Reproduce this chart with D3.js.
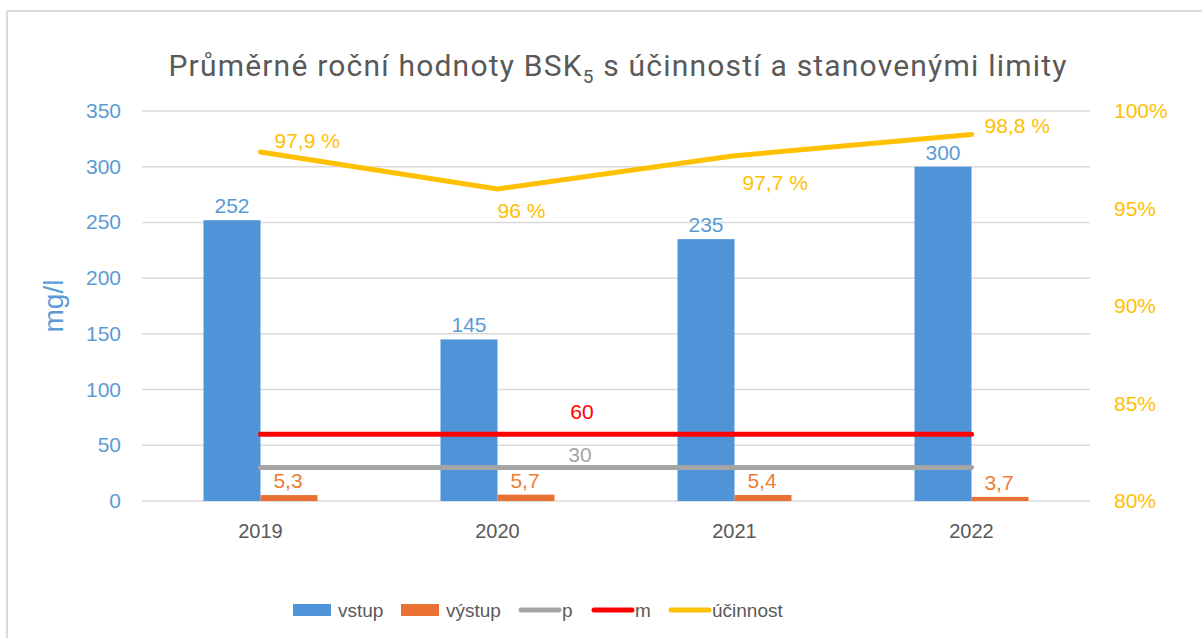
<!DOCTYPE html>
<html>
<head>
<meta charset="utf-8">
<script src="https://cdn.jsdelivr.net/npm/d3@7"></script>
<style>
  body { margin: 0; background: #fff; }
  text { font-family: "Liberation Sans", Arial, sans-serif; }
</style>
</head>
<body>
<div id="chart"></div>
<script>
const years = ["2019", "2020", "2021", "2022"];
const vstup = [252, 145, 235, 300];
const vystup = [5.3, 5.7, 5.4, 3.7];
const limitP = [30, 30, 30, 30];
const limitM = [60, 60, 60, 60];
const ucinnost = [97.9, 96, 97.7, 98.8];
const leftTicks = [0, 50, 100, 150, 200, 250, 300, 350];
const rightTicks = [80, 85, 90, 95, 100];

const W = 1202, H = 638;
const plot = { left: 142, right: 1090, top: 111, bottom: 501 };

const fmt = v => String(v).replace(".", ",");

const svg = d3.select("#chart").append("svg")
    .attr("width", W)
    .attr("height", H);

// chart frame (top + left edges visible in crop)
svg.append("line").attr("x1", 7).attr("x2", W).attr("y1", 11).attr("y2", 11)
    .attr("stroke", "#d9d9d9").attr("stroke-width", 2);
svg.append("line").attr("x1", 7).attr("x2", 7).attr("y1", 11).attr("y2", H)
    .attr("stroke", "#d9d9d9").attr("stroke-width", 2);

const x = d3.scaleBand()
    .domain(years)
    .range([plot.left, plot.right]);

const y = d3.scaleLinear()
    .domain([0, 350])
    .range([plot.bottom, plot.top]);

const y2 = d3.scaleLinear()
    .domain([80, 100])
    .range([plot.bottom, plot.top]);

const barW = 57;
const cx = d => x(d) + x.bandwidth() / 2;

// gridlines
svg.append("g")
    .selectAll("line").data(leftTicks).enter().append("line")
    .attr("x1", plot.left).attr("x2", plot.right)
    .attr("y1", d => y(d)).attr("y2", d => y(d))
    .attr("stroke", "#d9d9d9").attr("stroke-width", 1.5);

// left axis labels
svg.append("g")
    .selectAll("text").data(leftTicks).enter().append("text")
    .attr("x", 121).attr("y", d => y(d) + 7)
    .attr("text-anchor", "end")
    .attr("fill", "#5b9bd5")
    .style("font-size", "21px")
    .text(d => d);

// right axis labels
svg.append("g")
    .selectAll("text").data(rightTicks).enter().append("text")
    .attr("x", 1114).attr("y", d => y2(d) + 7)
    .attr("fill", "#ffc000")
    .style("font-size", "21px")
    .text(d => d + "%");

// category labels
svg.append("g")
    .selectAll("text").data(years).enter().append("text")
    .attr("x", d => cx(d)).attr("y", 538)
    .attr("text-anchor", "middle")
    .attr("fill", "#595959")
    .style("font-size", "20px")
    .text(d => d);

// axis title
svg.append("text")
    .attr("transform", "translate(63,306) rotate(-90)")
    .attr("text-anchor", "middle")
    .attr("fill", "#5b9bd5")
    .style("font-size", "28px")
    .text("mg/l");

// title
const title = svg.append("text")
    .attr("x", 618).attr("y", 76)
    .attr("text-anchor", "middle")
    .attr("fill", "#595959")
    .style("font-size", "30px")
    .style("letter-spacing", "1.2px")
    .style("font-family", "Roboto, sans-serif");
title.append("tspan").text("Průměrné roční hodnoty BSK");
title.append("tspan").attr("dy", 7).style("font-size", "19px").text("5");
title.append("tspan").attr("dy", -7).text(" s účinností a stanovenými limity");

// bars
svg.append("g")
    .selectAll("rect").data(years).enter().append("rect")
    .attr("x", d => cx(d) - barW)
    .attr("y", (d, i) => y(vstup[i]))
    .attr("width", barW)
    .attr("height", (d, i) => y(0) - y(vstup[i]))
    .attr("fill", "#4f94d9");

svg.append("g")
    .selectAll("rect").data(years).enter().append("rect")
    .attr("x", d => cx(d))
    .attr("y", (d, i) => y(vystup[i]))
    .attr("width", barW)
    .attr("height", (d, i) => y(0) - y(vystup[i]))
    .attr("fill", "#e97132");

// bar labels
svg.append("g")
    .selectAll("text").data(years).enter().append("text")
    .attr("x", d => cx(d) - barW / 2)
    .attr("y", (d, i) => y(vstup[i]) - 7)
    .attr("text-anchor", "middle")
    .attr("fill", "#5b9bd5")
    .style("font-size", "21px")
    .text((d, i) => vstup[i]);

svg.append("g")
    .selectAll("text").data(years).enter().append("text")
    .attr("x", d => cx(d) + barW / 2 - 1)
    .attr("y", (d, i) => y(vystup[i]) - 7)
    .attr("text-anchor", "middle")
    .attr("fill", "#ed7d31")
    .style("font-size", "21px")
    .text((d, i) => fmt(vystup[i]));

// limit lines
const lineL = d3.line()
    .x((d, i) => cx(years[i]))
    .y(d => y(d));

svg.append("path").datum(limitP)
    .attr("d", lineL)
    .attr("fill", "none").attr("stroke", "#a5a5a5")
    .attr("stroke-width", 5).attr("stroke-linecap", "round");

svg.append("path").datum(limitM)
    .attr("d", lineL)
    .attr("fill", "none").attr("stroke", "#ff0000")
    .attr("stroke-width", 5).attr("stroke-linecap", "round");

svg.append("text")
    .attr("x", 580).attr("y", y(30) - 6)
    .attr("text-anchor", "middle")
    .attr("fill", "#a5a5a5").style("font-size", "21px")
    .text(limitP[1]);

svg.append("text")
    .attr("x", 582).attr("y", y(60) - 15)
    .attr("text-anchor", "middle")
    .attr("fill", "#ff0000").style("font-size", "21px")
    .text(limitM[1]);

// efficiency line
const lineR = d3.line()
    .x((d, i) => cx(years[i]))
    .y(d => y2(d));

svg.append("path").datum(ucinnost)
    .attr("d", lineR)
    .attr("fill", "none").attr("stroke", "#ffc000")
    .attr("stroke-width", 5).attr("stroke-linecap", "round")
    .attr("stroke-linejoin", "round");

// label offsets: right-above for ends, below for middle points
const effOff = [[14, -4], [0, 29], [8, 34], [13, -1]];
svg.append("g")
    .selectAll("text").data(ucinnost).enter().append("text")
    .attr("x", (d, i) => cx(years[i]) + effOff[i][0])
    .attr("y", (d, i) => y2(d) + effOff[i][1])
    .attr("fill", "#ffc000").style("font-size", "21px")
    .text(d => fmt(d) + " %");

// legend
const legend = [
  { name: "vstup", type: "rect", color: "#4f94d9", x: 293 },
  { name: "výstup", type: "rect", color: "#e97132", x: 401 },
  { name: "p", type: "line", color: "#a5a5a5", x: 519 },
  { name: "m", type: "line", color: "#ff0000", x: 592 },
  { name: "účinnost", type: "line", color: "#ffc000", x: 669 }
];
const lg = svg.append("g").selectAll("g").data(legend).enter().append("g")
    .attr("transform", d => "translate(" + d.x + ",610)");
lg.filter(d => d.type === "rect").append("rect")
    .attr("x", 0).attr("y", -6).attr("width", 38).attr("height", 12)
    .attr("fill", d => d.color);
lg.filter(d => d.type === "line").append("line")
    .attr("x1", 2).attr("x2", 40).attr("y1", 0).attr("y2", 0)
    .attr("stroke", d => d.color).attr("stroke-width", 5)
    .attr("stroke-linecap", "round");
lg.append("text")
    .attr("x", d => d.type === "rect" ? 45 : 43).attr("y", 7)
    .attr("fill", "#595959").style("font-size", "19px")
    .text(d => d.name);
</script>
</body>
</html>
